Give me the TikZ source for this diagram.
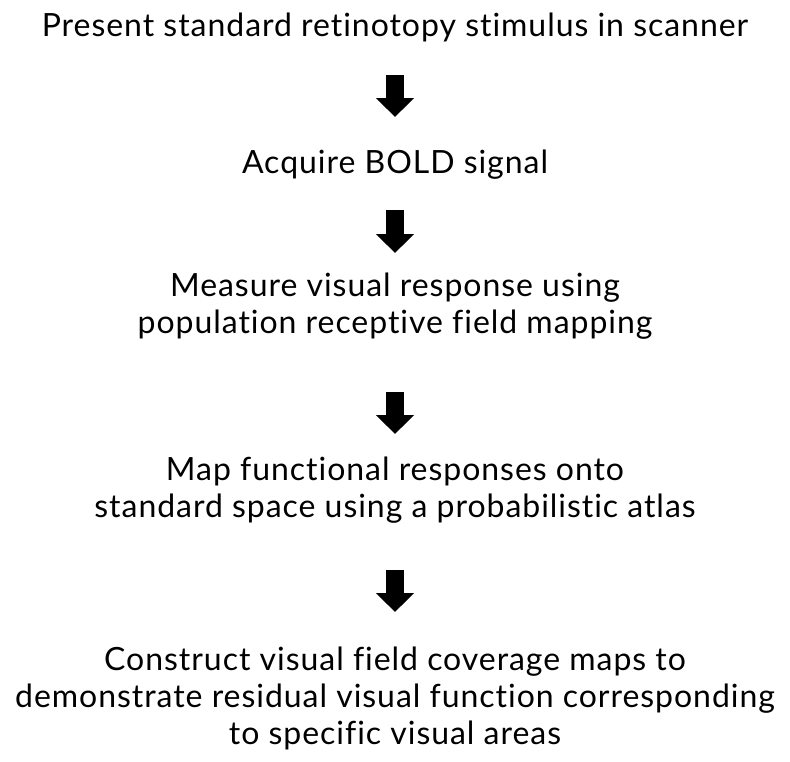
\documentclass[tikz,border=0pt]{standalone}
\usepackage{fontspec}
\setmainfont[LetterSpace=3, Ligatures=NoCommon]{Lato}
\usetikzlibrary{arrows.meta}

\begin{document}
\begin{tikzpicture}[x=1pt,y=1pt]
   \tikzstyle{every node}=[inner sep=0, align=center, anchor=base, font=\fontsize{32}{37}\selectfont]
   \tikzstyle{down arrow}=[line width=18pt, -{Triangle[width=37pt, length=19pt]}]

\useasboundingbox (0,0) rectangle (790,-761);

% base = baseline of the last line
\node (present) at (395,-36) {Present standard retinotopy stimulus in scanner};
\node (acquire) at (395,-173) {Acquire BOLD signal};
\node (measure) at (395,-333) {Measure visual response using\\population receptive field mapping};
\node (mapping) at (395,-517) {Map functional responses onto\\standard space using a probabilistic atlas};
\node (construct) at (395,-744) {Construct visual field coverage maps to\\demonstrate residual visual function corresponding\\to specific visual areas};

\draw[down arrow] ([yshift=-39]present.base) -- ([yshift=56]acquire.base);
\draw[down arrow] ([yshift=-37]acquire.base) -- ([yshift=80]measure.base);
\draw[down arrow] ([yshift=-59]measure.base) -- ([yshift=83]mapping.base);
\draw[down arrow] ([yshift=-53]mapping.base) -- ([yshift=132]construct.base);

\end{tikzpicture}
\end{document}
